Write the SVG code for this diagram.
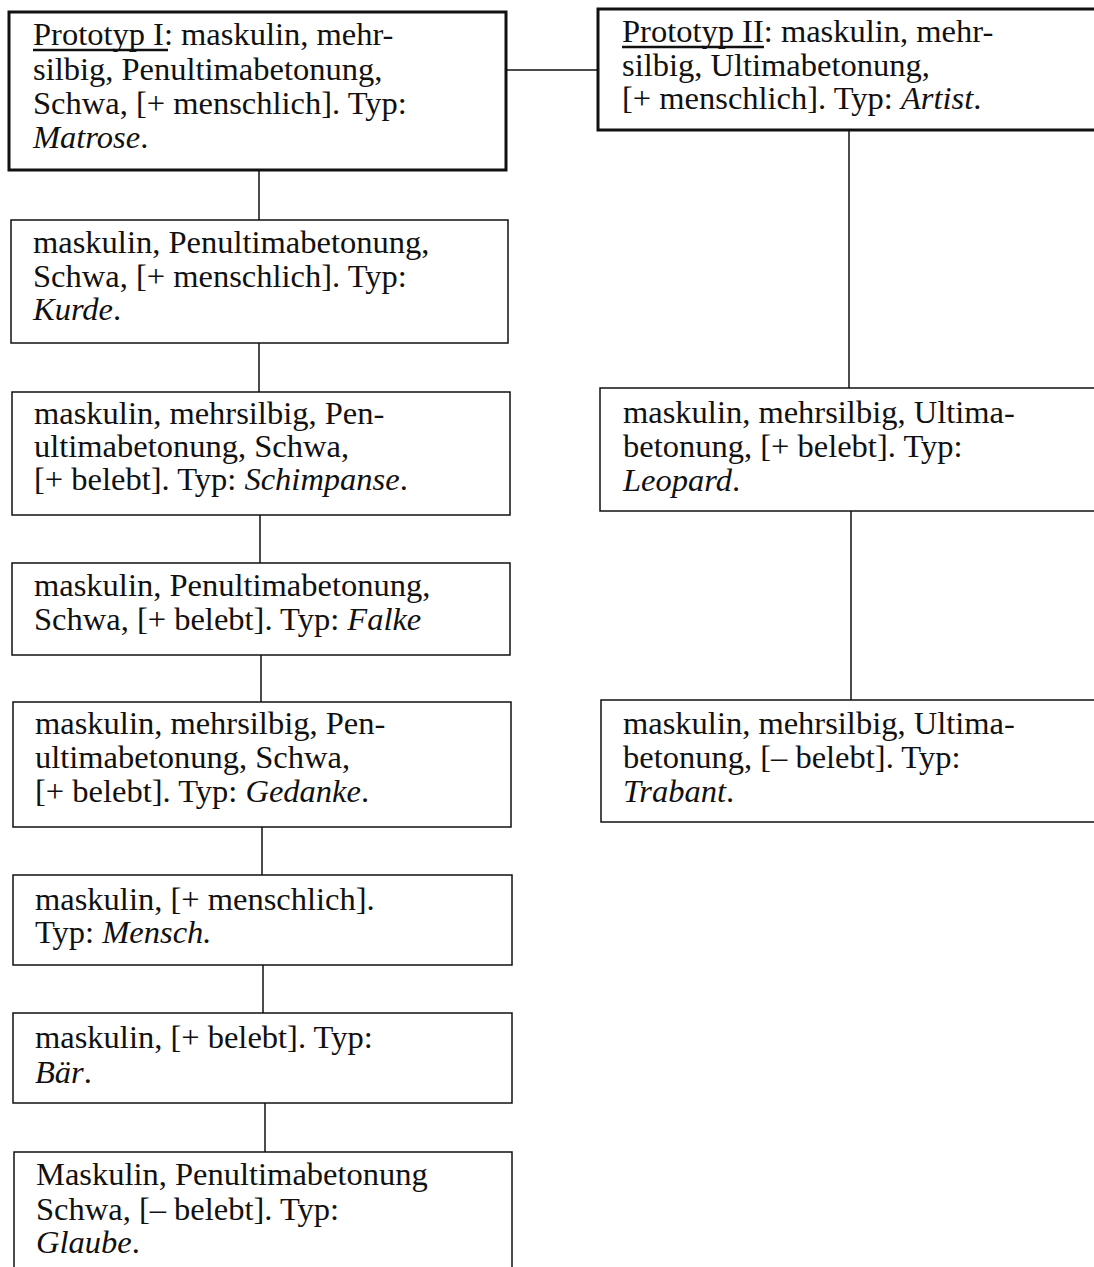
<svg xmlns="http://www.w3.org/2000/svg" width="1094" height="1267" viewBox="0 0 1094 1267">
<style>
.bg{fill:#ffffff}
.proto{fill:none;stroke:#111;stroke-width:3}
.box{fill:none;stroke:#111;stroke-width:1.5}
.conn{stroke:#111;stroke-width:1.5;fill:none}
.ul{stroke:#111;stroke-width:2.5}
text{font-family:"Liberation Serif","Times New Roman",serif;font-size:32.5px;fill:#111}
.it{font-style:italic}
</style>
<rect class="bg" x="0" y="0" width="1094" height="1267"/>
<g id="connectors">
<line class="conn" x1="506" y1="70" x2="598" y2="70"/>
<line class="conn" x1="849" y1="130" x2="849" y2="388"/>
<line class="conn" x1="851" y1="511" x2="851" y2="700"/>
<line class="conn" x1="259" y1="170" x2="259" y2="220"/>
<line class="conn" x1="259" y1="343" x2="259" y2="392"/>
<line class="conn" x1="260" y1="515" x2="260" y2="563"/>
<line class="conn" x1="261" y1="655" x2="261" y2="702"/>
<line class="conn" x1="262" y1="827" x2="262" y2="875"/>
<line class="conn" x1="263" y1="965" x2="263" y2="1013"/>
<line class="conn" x1="265" y1="1103" x2="265" y2="1152"/>
</g>
<g id="proto1">
<rect class="proto" x="9" y="12" width="497" height="158"/>
<line class="ul" x1="33" y1="50" x2="168" y2="50"/>
<text x="33" y="45">Prototyp I: maskulin, mehr-</text>
<text x="33" y="80">silbig, Penultimabetonung,</text>
<text x="33" y="114">Schwa, [+ menschlich]. Typ:</text>
<text x="33" y="148"><tspan class="it">Matrose</tspan>.</text>
</g>
<g id="proto2">
<rect class="proto" x="598" y="9" width="510" height="121"/>
<line class="ul" x1="622" y1="47" x2="764" y2="47"/>
<text x="622" y="42">Prototyp II: maskulin, mehr-</text>
<text x="622" y="76">silbig, Ultimabetonung,</text>
<text x="622" y="109">[+ menschlich]. Typ: <tspan class="it">Artist</tspan>.</text>
</g>
<g id="leopard">
<rect class="box" x="600" y="388" width="510" height="123"/>
<text x="623" y="423">maskulin, mehrsilbig, Ultima-</text>
<text x="623" y="457">betonung, [+ belebt]. Typ:</text>
<text x="623" y="491"><tspan class="it">Leopard</tspan>.</text>
</g>
<g id="trabant">
<rect class="box" x="601" y="700" width="510" height="122"/>
<text x="623" y="734">maskulin, mehrsilbig, Ultima-</text>
<text x="623" y="768">betonung, [– belebt]. Typ:</text>
<text x="623" y="802"><tspan class="it">Trabant</tspan>.</text>
</g>
<g id="kurde">
<rect class="box" x="11" y="220" width="497" height="123"/>
<text x="33" y="253">maskulin, Penultimabetonung,</text>
<text x="33" y="287">Schwa, [+ menschlich]. Typ:</text>
<text x="33" y="320"><tspan class="it">Kurde</tspan>.</text>
</g>
<g id="schimpanse">
<rect class="box" x="12" y="392" width="498" height="123"/>
<text x="34" y="424">maskulin, mehrsilbig, Pen-</text>
<text x="34" y="457">ultimabetonung, Schwa,</text>
<text x="34" y="490">[+ belebt]. Typ: <tspan class="it">Schimpanse</tspan>.</text>
</g>
<g id="falke">
<rect class="box" x="12" y="563" width="498" height="92"/>
<text x="34" y="596">maskulin, Penultimabetonung,</text>
<text x="34" y="630">Schwa, [+ belebt]. Typ: <tspan class="it">Falke</tspan></text>
</g>
<g id="gedanke">
<rect class="box" x="13" y="702" width="498" height="125"/>
<text x="35" y="734">maskulin, mehrsilbig, Pen-</text>
<text x="35" y="768">ultimabetonung, Schwa,</text>
<text x="35" y="802">[+ belebt]. Typ: <tspan class="it">Gedanke</tspan>.</text>
</g>
<g id="mensch">
<rect class="box" x="13" y="875" width="499" height="90"/>
<text x="35" y="910">maskulin, [+ menschlich].</text>
<text x="35" y="943">Typ: <tspan class="it">Mensch.</tspan></text>
</g>
<g id="baer">
<rect class="box" x="13" y="1013" width="499" height="90"/>
<text x="35" y="1048">maskulin, [+ belebt]. Typ:</text>
<text x="35" y="1083"><tspan class="it">Bär</tspan>.</text>
</g>
<g id="glaube">
<rect class="box" x="14" y="1152" width="498" height="130"/>
<text x="36" y="1185">Maskulin, Penultimabetonung</text>
<text x="36" y="1220">Schwa, [– belebt]. Typ:</text>
<text x="36" y="1253"><tspan class="it">Glaube</tspan>.</text>
</g>
</svg>
